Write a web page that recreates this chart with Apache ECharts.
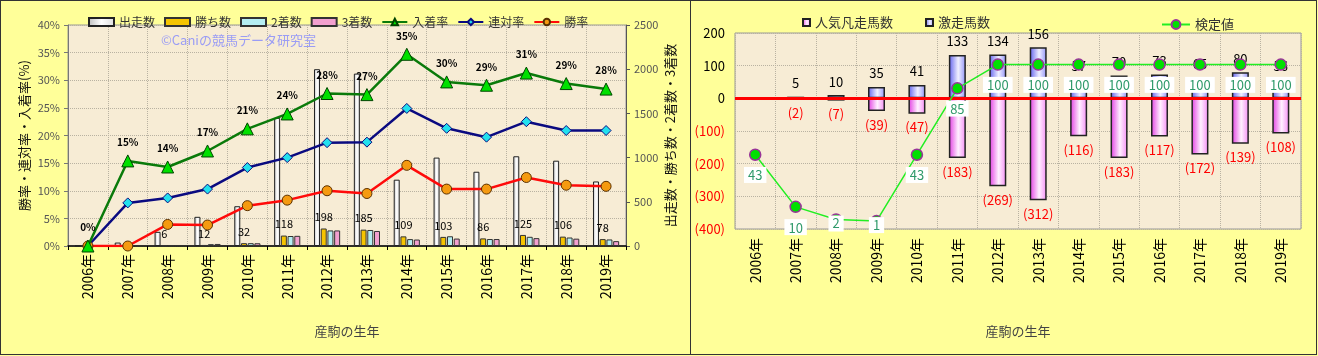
<!DOCTYPE html>
<html>
<head>
<meta charset="utf-8">
<script src="https://cdn.jsdelivr.net/npm/echarts@6/dist/echarts.min.js"></script>
<style>
html,body{margin:0;padding:0;background:#ffff99;}
#wrap{position:relative;width:1318px;height:356px;}
.panel{position:absolute;top:0;height:355px;box-sizing:border-box;border:1px solid #333;background:#ffff99;}
#chart{position:absolute;left:0;top:0;width:1318px;height:356px;}
</style>
</head>
<body>
<div id="wrap">
  <div class="panel" style="left:0;width:691px;"></div>
  <div class="panel" style="left:690px;width:627px;"></div>
  <div id="chart"></div>
</div>
<script>
// ---- categories ----
const years = ['2006年','2007年','2008年','2009年','2010年','2011年','2012年','2013年','2014年','2015年','2016年','2017年','2018年','2019年'];

// ---- left chart: counts ----
const runs    = [4, 39, 160, 330, 450, 1450, 2000, 1950, 750, 1000, 840, 1015, 965, 730];
const wins    = [0, 0, 6, 12, 32, 118, 198, 185, 109, 103, 86, 125, 106, 78];
const seconds = [0, 3, 8, 21, 32, 113, 176, 181, 78, 110, 79, 104, 96, 74];
const thirds  = [0, 3, 9, 23, 31, 115, 176, 170, 73, 84, 79, 89, 83, 55];

// ---- left chart: rates (%) ----
const placeRate    = [0, 15.4, 14.3, 17.2, 21.2, 23.9, 27.6, 27.4, 34.7, 29.7, 29.1, 31.3, 29.4, 28.4];
const quinellaRate = [0, 7.8, 8.7, 10.3, 14.2, 16.0, 18.7, 18.8, 24.9, 21.3, 19.7, 22.5, 20.9, 20.9];
const winRate      = [0, 0, 3.9, 3.8, 7.3, 8.3, 10.0, 9.5, 14.6, 10.3, 10.3, 12.4, 11.0, 10.8];

// ---- right chart ----
const popularFailCount = [null, 2, 7, 39, 47, 183, 269, 312, 116, 183, 117, 172, 139, 108];
const upsetCount       = [null, 5, 10, 35, 41, 133, 134, 156, 57, 70, 73, 65, 80, 56];
const testValue        = [43, 10, 2, 1, 43, 85, 100, 100, 100, 100, 100, 100, 100, 100];

// ---- axis ticks ----
const leftRateTicks = {min: 0, max: 40, interval: 5};
const leftCountTicks = {min: 0, max: 2500, interval: 500};
const rightTicks = {min: -400, max: 200, interval: 100};

const FONT = "'Noto Sans CJK JP', 'Noto Sans', sans-serif";
const chart = echarts.init(document.getElementById('chart'), null, {renderer: 'canvas'});

function hGrad(stops) {
  return new echarts.graphic.LinearGradient(0, 0, 1, 0, stops.map(c => ({offset: c[0], color: c[1]})));
}

const gridLine = {show: true, lineStyle: {color: '#b9b2a2', type: 'dotted', width: 1}};

const option = {
  animation: false,
  textStyle: {fontFamily: FONT},
  graphic: [{
    type: 'text', left: 161, top: 34, z: 1,
    style: {text: '©Caniの競馬データ研究室', fill: '#9a9cf5', font: "13px 'Noto Sans CJK JP'"}
  }],
  legend: [
    {
      data: [
        {name: '出走数', icon: 'rect'}, {name: '勝ち数', icon: 'rect'},
        {name: '2着数', icon: 'rect'}, {name: '3着数', icon: 'rect'},
        '入着率', '連対率', '勝率'
      ],
      left: 83, top: 11, itemWidth: 25, itemHeight: 8, itemGap: 9,
      textStyle: {fontSize: 12, color: '#333', fontFamily: FONT}
    },
    {
      data: [{name: '人気凡走馬数', icon: 'rect'}, {name: '激走馬数', icon: 'rect'}],
      left: 797, top: 11, itemWidth: 7, itemHeight: 7, itemGap: 32,
      textStyle: {fontSize: 13, color: '#333', fontFamily: FONT}
    },
    {
      data: ['検定値'],
      left: 1156, top: 13, itemWidth: 28, itemHeight: 11,
      textStyle: {fontSize: 13, color: '#333', fontFamily: FONT}
    }
  ],
  grid: [
    {left: 68, top: 25, width: 558, height: 221, show: true, backgroundColor: '#f7ecd5', borderColor: '#999', borderWidth: 1},
    {left: 735, top: 33, width: 566, height: 196, show: true, backgroundColor: '#f7ecd5', borderColor: '#999', borderWidth: 1}
  ],
  xAxis: [
    {
      type: 'category', gridIndex: 0, data: years,
      axisLine: {lineStyle: {color: '#000', width: 1.5}},
      axisTick: {show: true, length: 4, lineStyle: {color: '#000'}},
      axisLabel: {rotate: 90, fontSize: 14, color: '#000', margin: 8},
      splitLine: gridLine,
      name: '産駒の生年', nameLocation: 'middle', nameGap: 79,
      nameTextStyle: {fontSize: 13, color: '#444', verticalAlign: 'top'}
    },
    {
      type: 'category', gridIndex: 1, data: years,
      axisLine: {show: false, onZero: false},
      axisTick: {show: false},
      axisLabel: {rotate: 90, fontSize: 14, color: '#000', margin: 9},
      splitLine: gridLine,
      name: '産駒の生年', nameLocation: 'middle', nameGap: 96,
      nameTextStyle: {fontSize: 13, color: '#444', verticalAlign: 'top'}
    }
  ],
  yAxis: [
    {
      type: 'value', gridIndex: 0, position: 'left',
      min: leftRateTicks.min, max: leftRateTicks.max, interval: leftRateTicks.interval,
      axisLine: {show: true, lineStyle: {color: '#777'}},
      axisTick: {show: true, length: 4, lineStyle: {color: '#777'}},
      axisLabel: {formatter: '{value}%', fontSize: 11, color: '#555', margin: 8},
      splitLine: gridLine,
      name: '勝率・連対率・入着率(%)', nameLocation: 'middle', nameRotate: 90, nameGap: 37,
      nameTextStyle: {fontSize: 13, color: '#111'}
    },
    {
      type: 'value', gridIndex: 0, position: 'right',
      min: leftCountTicks.min, max: leftCountTicks.max, interval: leftCountTicks.interval,
      axisLine: {show: true, lineStyle: {color: '#555'}},
      axisTick: {show: true, length: 4, lineStyle: {color: '#555'}},
      axisLabel: {fontSize: 11, color: '#555', margin: 8, formatter: v => String(v)},
      splitLine: {show: false},
      name: '出走数・勝ち数・2着数・3着数', nameLocation: 'middle', nameRotate: 90, nameGap: 38,
      nameTextStyle: {fontSize: 13, color: '#111'}
    },
    {
      type: 'value', gridIndex: 1,
      min: rightTicks.min, max: rightTicks.max, interval: rightTicks.interval,
      axisLine: {show: false}, axisTick: {show: false},
      axisLabel: {
        margin: 10,
        formatter: v => v < 0 ? '{n|(' + (-v) + ')}' : '{p|' + v + '}',
        rich: {n: {color: '#ff0000', fontSize: 13}, p: {color: '#000', fontSize: 13}}
      },
      splitLine: gridLine
    },
    {
      type: 'value', gridIndex: 1, min: -4, max: 120, show: false, splitLine: {show: false}
    }
  ],
  series: [
    {
      name: '出走数', type: 'bar', xAxisIndex: 0, yAxisIndex: 1, data: runs,
      barWidth: 6, barGap: '12%',
      itemStyle: {color: hGrad([[0, '#bdbdbd'], [0.5, '#ffffff'], [1, '#dcdcdc']]), borderColor: '#222', borderWidth: 1}
    },
    {
      name: '勝ち数', type: 'bar', xAxisIndex: 0, yAxisIndex: 1, data: wins,
      barWidth: 6, barGap: '12%',
      itemStyle: {color: '#f5c400', borderColor: '#333', borderWidth: 1},
      label: {show: true, position: 'top', distance: 6, fontSize: 11, color: '#000',
        formatter: p => p.value > 0 ? String(p.value) : ''}
    },
    {
      name: '2着数', type: 'bar', xAxisIndex: 0, yAxisIndex: 1, data: seconds,
      barWidth: 6, barGap: '12%',
      itemStyle: {color: '#b5eef2', borderColor: '#333', borderWidth: 1}
    },
    {
      name: '3着数', type: 'bar', xAxisIndex: 0, yAxisIndex: 1, data: thirds,
      barWidth: 6, barGap: '12%',
      itemStyle: {color: '#f2a0cf', borderColor: '#333', borderWidth: 1}
    },
    {
      name: '入着率', type: 'line', xAxisIndex: 0, yAxisIndex: 0, data: placeRate,
      symbol: 'triangle', symbolSize: 12, z: 5,
      lineStyle: {color: '#0a7a0a', width: 2.5},
      itemStyle: {color: '#00e000', borderColor: '#004400', borderWidth: 1},
      label: {show: true, position: 'top', distance: 7, fontSize: 10, fontWeight: 'bold', color: '#000',
        formatter: p => Math.round(p.value) + '%'}
    },
    {
      name: '連対率', type: 'line', xAxisIndex: 0, yAxisIndex: 0, data: quinellaRate,
      symbol: 'diamond', symbolSize: 10, z: 4,
      lineStyle: {color: '#0a0a80', width: 2.5},
      itemStyle: {color: '#22e0ee', borderColor: '#0a0a80', borderWidth: 1}
    },
    {
      name: '勝率', type: 'line', xAxisIndex: 0, yAxisIndex: 0, data: winRate,
      symbol: 'circle', symbolSize: 10, z: 4,
      lineStyle: {color: '#ff0a0a', width: 2.5},
      itemStyle: {color: '#f59a10', borderColor: '#5a3000', borderWidth: 1}
    },
    {
      name: '人気凡走馬数', type: 'bar', xAxisIndex: 1, yAxisIndex: 2,
      data: popularFailCount.map(v => v == null ? null : -v),
      barWidth: 17, barGap: '-100%',
      itemStyle: {color: hGrad([[0, '#e23ce2'], [0.55, '#fff0ff'], [1, '#f58cf5']]), borderColor: '#222', borderWidth: 1.5},
      label: {show: true, position: 'bottom', distance: 7, fontSize: 13, color: '#ff0000',
        formatter: p => p.value == null ? '' : '(' + (-p.value) + ')'}
    },
    {
      name: '激走馬数', type: 'bar', xAxisIndex: 1, yAxisIndex: 2, data: upsetCount,
      barWidth: 17, barGap: '-100%',
      itemStyle: {color: hGrad([[0, '#6060ee'], [0.55, '#f0f0ff'], [1, '#9090f8']]), borderColor: '#222', borderWidth: 1.5},
      label: {show: true, position: 'top', distance: 7, fontSize: 13, color: '#000',
        formatter: p => p.value == null ? '' : String(p.value)},
      markLine: {
        silent: true, symbol: 'none', label: {show: false},
        lineStyle: {color: '#ff0000', width: 3, type: 'solid'},
        data: [{yAxis: 0}]
      }
    },
    {
      name: '検定値', type: 'line', xAxisIndex: 1, yAxisIndex: 3, z: 6,
      data: testValue.map(v => v < 5
        ? {value: v, label: {position: 'inside', offset: [0, 4]}}
        : v),
      symbol: 'circle', symbolSize: 11,
      lineStyle: {color: '#22ee22', width: 1.5},
      itemStyle: {color: '#00e000', borderColor: '#993399', borderWidth: 1.5},
      label: {show: true, position: 'bottom', distance: 6, fontSize: 13, color: '#2f9a6a',
        backgroundColor: '#ffffff', padding: [2, 4, 1, 4]}
    }
  ]
};
chart.setOption(option);
</script>
</body>
</html>
